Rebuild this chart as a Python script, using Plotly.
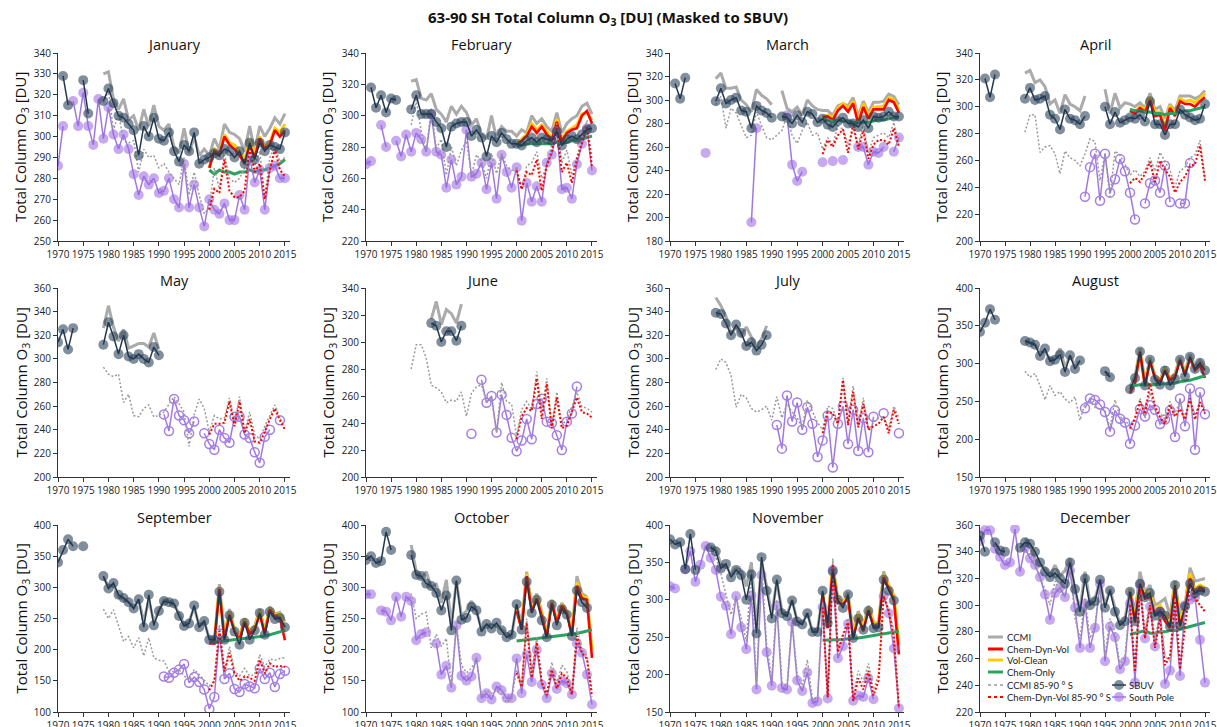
import plotly.graph_objects as go

N = None
W, H = 1217, 727

YEARS = list(range(1970, 2016))
MODEL_YEARS = list(range(2000, 2016))
MONTHS = ["January", "February", "March", "April", "May", "June",
          "July", "August", "September", "October", "November", "December"]
X_TICKS = list(range(1970, 2016, 5))

# ---------------- January ----------------
JAN_SBUV = [N, 329, 315, N, N, 327, 311, N, N, 317,
            323, 316, 310, 309, 306, 303, 291, 305, 300, 309,
            299, 298, 302, 293, 288, 296, 293, 302, 287, 289,
            290, 292, 291, 294, 293, 290, 293, 287, 297, 289,
            297, 293, 296, 295, 294, 302]
JAN_SP = [286, 305, N, 317, 305, 321, 305, 296, 318, 299,
          314, 301, 294, 301, 294, 282, 272, 281, 277, 280,
          273, 274, 280, 270, 266, 287, 266, 277, 266, 257,
          270, 265, 263, 268, 260, 260, 272, 265, 290, 278,
          284, 265, 285, 286, 280, 280]
JAN_CCMI = [N] * 9 + [330,
            331, 318, 313, 318, 308, 310, 303, 313, 305, 315,
            305, 303, 306, 295, 292, 304, 292, 300, 291, 294,
            291, 299, 294, 306, 302, 301, 299, 293, 305, 293,
            305, 300, 304, 309, 306, 311]
JAN_CCMI85 = [N] * 9 + [316,
              322, 303, 311, 298, 297, 298, 283, 294, 290, 291,
              285, 287, 283, 280, 277, 290, 272, 283, 272, 263,
              266, 285, 275, 292, 280, 278, 280, 285, 298, 286,
              293, 271, 290, 295, 288, 290]
JAN_CDV = [285, 293, 291, 300, 296, 294, 291, 287, 296, 290, 299, 294, 296, 303, 300, 303]
JAN_VC = [285, 294, 292, 301, 297, 296, 293, 289, 298, 292, 300, 295, 297, 304, 302, 306]
JAN_CO = [284, 282, 284, 283, 283, 282, 283, 283, 284, 283, 284, 284, 285, 286, 287, 289]
JAN_CDV85 = [265, 275, 273, 289, 274, 271, 271, 274, 295, 283, 287, 270, 284, 294, 284, 281]

# ---------------- February ----------------
FEB_SBUV = [N, 318, 305, 313, 302, 311, 310, N, N, 304,
            313, 301, 301, 301, 296, 292, 280, 293, 295, 296,
            296, 287, 291, 286, 274, 287, 283, 289, 285, 282,
            282, 281, 284, 286, 283, 286, 285, 284, 290, 281,
            285, 287, 285, 288, 291, 292]
FEB_SP = [269, 271, N, 294, 280, N, 284, 274, 288, 277,
          289, 285, 277, 301, 277, 275, 254, 272, 256, 261,
          291, 261, 263, 270, 253, 270, 247, 275, 264, 254,
          267, 233, 257, 245, 255, 245, 270, 275, 290, 253,
          254, 247, 269, 282, 292, 265]
FEB_CCMI = [N] * 9 + [322,
            323, 311, 310, 314, 304, 301, 296, 306, 301, 306,
            302, 294, 298, 288, 285, 300, 285, 293, 290, 290,
            287, 291, 289, 300, 295, 298, 293, 290, 302, 289,
            295, 298, 300, 306, 308, 301]
FEB_CCMI85 = [N] * 9 + [294,
              310, 290, 278, 305, 279, 285, 262, 280, 268, 278,
              284, 262, 275, 271, 260, 276, 263, 276, 268, 265,
              266, 253, 268, 270, 277, 260, 268, 282, 295, 270,
              278, 262, 274, 284, 297, 272]
FEB_CDV = [281, 284, 287, 293, 289, 293, 288, 284, 296, 283, 289, 291, 292, 300, 303, 295]
FEB_VC = [282, 285, 288, 295, 291, 294, 290, 286, 298, 285, 290, 292, 294, 301, 302, 297]
FEB_CO = [281, 281, 282, 282, 282, 282, 282, 282, 283, 282, 283, 284, 284, 285, 286, 287]
FEB_CDV85 = [265, 253, 264, 262, 272, 252, 268, 277, 292, 264, 270, 257, 272, 283, 293, 267]

# ---------------- March ----------------
MAR_SBUV = [N, 314, 301, 319, N, N, N, N, N, 299,
            310, 297, 300, 302, 291, 290, 276, 295, 291, 289,
            285, N, 286, 285, 280, 287, 281, 290, 288, 281,
            284, 279, 277, 282, 285, 280, 280, 277, 283, 276,
            286, 285, 286, 290, 286, 286]
MAR_SP = [N, N, N, N, N, N, N, 255, N, N,
          N, N, N, N, N, N, 196, 276, N, N,
          N, N, N, 287, 245, 231, 239, N, N, N,
          247, N, 248, N, 249, N, N, 260, 260, 245,
          256, 255, 260, N, 256, 268]
MAR_CCMI = [N] * 9 + [318,
            323, 310, 310, 311, 300, 296, 290, 309, 304, 301,
            296, N, 308, 293, 290, 294, 287, 300, 295, 292,
            291, 291, 287, 295, 297, 295, 302, 286, 299, 289,
            298, 298, 299, 305, 303, 296]
MAR_CCMI85 = [N] * 9 + [296,
              303, 276, 293, 289, 278, 268, 270, 290, 278, 268,
              266, 270, 274, 287, 270, 263, 274, 281, 270, 272,
              258, 268, 262, 278, 275, 263, 275, 261, 279, 255,
              268, 270, 272, 268, 281, 262]
MAR_CDV = [285, 286, 283, 291, 295, 290, 297, 280, 294, 284, 292, 292, 292, 300, 298, 289]
MAR_VC = [286, 287, 285, 293, 297, 293, 299, 282, 297, 287, 294, 294, 295, 302, 300, 292]
MAR_CO = [283, 283, 282, 283, 282, 282, 281, 281, 281, 281, 282, 283, 283, 284, 285, 285]
MAR_CDV85 = [254, 266, 260, 270, 275, 255, 280, 258, 274, 250, 262, 266, 266, 262, 276, 260]

# ---------------- April ----------------
APR_SBUV = [N, 321, 307, 324, N, N, N, N, N, 306,
            314, 305, 306, 308, 294, 291, 283, 298, 291, 290,
            287, 293, N, N, N, 300, 287, 296, 288, 290,
            292, 291, 294, 289, 304, 287, 287, 279, 287, 287,
            298, 294, 292, 290, 291, 302]
APR_SP = [N] * 20 + [N, 233, 255, 265, 230, 265, 236, 246, 261, 252,
                     236, 216, N, 228, 243, 245, 236, 256, 229, N,
                     228, 228, 258, N, N, N]
APR_CCMI = [N] * 9 + [325,
            327, 318, 320, 315, 302, 305, 295, 309, 302, 300,
            297, 308, N, N, N, 313, 295, 310, 299, 303,
            302, 300, 303, 299, 310, 298, 300, 291, 302, 297,
            308, 308, 308, 306, 308, 312]
APR_CCMI85 = [N] * 9 + [281,
              294, 294, 266, 270, 271, 265, 250, 267, 262, 260,
              256, 265, 276, 274, 245, 265, 233, 267, 264, 257,
              249, 253, 248, 252, 262, 252, 266, 259, 253, 240,
              252, 255, 262, 264, 275, 247]
APR_CDV = [297, 295, 299, 296, 305, 293, 294, 282, 299, 293, 304, 302, 302, 300, 304, 307]
APR_VC = [298, 296, 300, 298, 307, 296, 296, 285, 301, 295, 306, 304, 305, 303, 306, 310]
APR_CO = [298, 297, 297, 296, 296, 295, 295, 294, 295, 295, 296, 297, 297, 298, 299, 300]
APR_CDV85 = [243, 247, 244, 250, 259, 244, 260, 253, 248, 236, 244, 248, 256, 257, 271, 245]

# ---------------- May ----------------
MAY_SBUV = [314, 325, 308, 326, N, N, N, N, N, 312,
            331, 319, 304, 320, 302, 300, 304, 300, 297, 310,
            303] + [N] * 25
MAY_SP = [N] * 20 + [N, 253, 239, 266, 252, 248, 237, 247, N, 237,
                     228, 223, 240, 233, 229, 251, 251, 236, 233, 221,
                     212, 234, 240, N, 248, N]
MAY_CCMI = [N] * 9 + [326,
            345, 327, 315, 325, 309, 311, 313, 313, 310, 322,
            308] + [N] * 25
MAY_CCMI85 = [N] * 9 + [293,
              287, 285, 287, 263, 270, 252, 251, 258, 261, 251,
              252, 255, 262, 268, 262, 255, 226, 253, 266, 258,
              238, 252, 249, 250, 267, 246, 268, 238, 255, 236,
              232, 243, 252, 261, 250, 243]
MAY_CDV = [N] * 16
MAY_VC = [N] * 16
MAY_CO = [N] * 16
MAY_CDV85 = [236, 245, 245, 246, 264, 243, 264, 237, 249, 230, 229, 238, 249, 258, 248, 240]

# ---------------- June ----------------
JUN_SBUV = [N] * 13 + [314, 312, 300, 308, 308, 301, 312] + [N] * 26
JUN_SP = [N] * 20 + [N, 232, N, 272, 255, 260, 233, 261, 246, 229,
                     219, 227, 243, 228, 254, 258, 241, 240, 231, 220,
                     241, 247, 267, N, N, N]
JUN_CCMI = [N] * 13 + [317, 330, 313, 324, 321, 314, 328] + [N] * 26
JUN_CCMI85 = [N] * 9 + [280,
              298, 298, 288, 268, 266, 263, 255, 257, 256, 263,
              245, 262, 267, 268, 256, 258, 233, 270, 256, 254,
              230, 250, 256, 250, 278, 249, 273, 238, 263, 238,
              243, 252, 263, 252, 251, 248]
JUN_CDV = [N] * 16
JUN_VC = [N] * 16
JUN_CO = [N] * 16
JUN_CDV85 = [228, 245, 251, 249, 273, 243, 269, 236, 259, 236, 238, 248, 259, 248, 247, 244]

# ---------------- July ----------------
JUL_SBUV = [N] * 9 + [339, 338, 330, 320, 329, 322, 311, 314, 307, 312, 320] + [N] * 26
JUL_SP = [N] * 20 + [N, 244, 224, 269, 247, 263, 240, 259, 245, 217,
                     231, 252, 208, 245, 260, 228, 257, 222, 250, 221,
                     251, N, 254, N, N, 237]
JUL_CCMI = [N] * 9 + [352, 345, 336, 322, 326, 320, 327, 318, 310, 317, 328] + [N] * 26
JUL_CCMI85 = [N] * 9 + [291,
              300, 297, 286, 259, 270, 267, 258, 255, 257, 260,
              248, 268, 250, 262, 255, 250, 242, 265, 255, 246,
              240, 260, 258, 246, 284, 245, 277, 242, 267, 240,
              246, 250, 251, 241, 260, 250]
JUL_CDV = [N] * 16
JUL_VC = [N] * 16
JUL_CO = [N] * 16
JUL_CDV85 = [237, 255, 254, 245, 282, 244, 272, 242, 262, 240, 243, 245, 251, 237, 257, 245]

# ---------------- August ----------------
AUG_SBUV = [342, 354, 372, 358, N, N, N, N, N, 330,
            328, 325, 310, 320, 303, 305, 312, 289, 311, 293,
            304, N, N, N, N, 290, 282, N, N, N,
            266, 281, 316, 271, 305, 279, 272, 291, 271, 280,
            305, 283, 309, 293, 301, 291]
AUG_SP = [N] * 20 + [N, 241, 254, 252, 246, 236, 210, 238, 227, 222,
                     194, 218, 240, 230, 245, 239, 220, 226, 238, 203,
                     254, 217, 267, 186, 262, 233]
AUG_CCMI = [N] * 9 + [330,
            327, 325, 316, 315, 306, 307, 320, 295, 310, 299,
            303, N, N, N, N, 290, 283, N, N, N,
            270, 283, 320, 276, 308, 283, 278, 296, 280, 287,
            308, 289, 312, 297, 304, 297]
AUG_CCMI85 = [N] * 9 + [290,
              282, 287, 271, 252, 271, 258, 263, 253, 248, 256,
              225, 248, 250, 242, 240, 238, 215, 252, 230, 225,
              217, 225, 254, 228, 262, 240, 235, 226, 250, 234,
              250, 228, 252, 232, 250, 240]
AUG_CDV = [261, 274, 315, 270, 303, 281, 275, 291, 278, 282, 305, 285, 307, 291, 298, 281]
AUG_VC = [263, 276, 317, 272, 305, 283, 277, 293, 280, 284, 306, 287, 308, 293, 300, 292]
AUG_CO = [270, 271, 272, 272, 272, 272, 273, 273, 274, 274, 276, 277, 278, 280, 282, 284]
AUG_CDV85 = [214, 228, 250, 233, 274, 243, 229, 220, 245, 230, 240, 226, 254, 226, 249, 234]

# ---------------- September ----------------
SEP_SBUV = [340, 360, 377, 366, N, 366, N, N, N, 318,
            298, 307, 288, 283, 276, 266, 281, 236, 288, 239,
            262, 278, 276, 274, 254, 238, 242, 271, 236, 246,
            216, 216, 293, 216, 255, 229, 208, 243, 216, 231,
            259, 224, 261, 249, 251, 236]
SEP_SP = [N] * 20 + [N, 157, 155, 163, 168, 177, 147, 156, 148, 136,
                     105, 124, 226, 153, 162, 137, 132, 145, 141, 138,
                     170, 153, 163, 140, 161, 166]
SEP_CCMI = [N] * 9 + [315,
            303, 302, 285, 280, 276, 268, 280, 245, 280, 245,
            263, 280, 278, 272, 258, 240, 245, 268, 238, 245,
            218, 215, 305, 222, 265, 230, 220, 250, 227, 238,
            265, 230, 269, 257, 260, 245]
SEP_CCMI85 = [N] * 9 + [265,
              250, 264, 240, 213, 221, 203, 219, 190, 219, 187,
              183, 182, 165, 165, 168, 158, 151, 168, 160, 151,
              142, 150, 240, 165, 205, 165, 158, 170, 158, 160,
              192, 172, 185, 183, 186, 187]
SEP_CDV = [210, 210, 297, 215, 256, 229, 216, 245, 225, 232, 257, 225, 264, 252, 251, 215]
SEP_VC = [210, 211, 300, 218, 260, 232, 220, 249, 229, 236, 262, 229, 267, 256, 257, 235]
SEP_CO = [211, 212, 213, 213, 214, 215, 216, 217, 218, 219, 220, 222, 224, 226, 228, 231]
SEP_CDV85 = [135, 150, 230, 165, 195, 162, 150, 157, 155, 150, 184, 162, 178, 172, 174, 172]

# ---------------- October ----------------
OCT_SBUV = [344, 350, 339, 342, 389, 360, N, N, N, 352,
            320, 318, 306, 302, 291, 263, 287, 231, 311, 248,
            251, 269, 263, 229, 241, 234, 243, 231, 220, 224,
            273, 232, 309, 259, 280, 247, 220, 272, 239, 265,
            256, 222, 295, 276, 267, N]
OCT_SP = [289, 289, N, 263, 261, 247, 285, 253, 285, 278,
          215, 225, 228, N, 210, 160, 174, 139, 239, 158,
          150, 157, 187, 122, 130, 120, 141, 135, 122, 122,
          186, 130, 192, 148, 200, 144, 122, 162, 137, 150,
          146, 128, 210, 195, 160, 112]
OCT_CCMI = [N] * 9 + [368,
            325, 315, 325, 300, 305, 275, 312, 240, 310, 255,
            262, 278, 262, 233, 240, 240, 238, 232, 226, 222,
            272, 240, 325, 265, 290, 260, 225, 280, 245, 275,
            262, 225, 318, 290, 285, N]
OCT_CCMI85 = [N] * 9 + [290,
              250, 257, 260, 203, 225, 205, 218, 142, 245, 175,
              163, 170, 185, 125, 135, 130, 135, 128, 115, 122,
              168, 140, 250, 165, 220, 150, 130, 180, 145, 175,
              165, 130, 235, 200, 190, 135]
OCT_CDV = [262, 232, 318, 260, 282, 254, 220, 275, 243, 270, 258, 222, 302, 282, 280, 187]
OCT_VC = [265, 235, 322, 263, 286, 258, 224, 278, 246, 273, 262, 226, 308, 286, 283, 200]
OCT_CO = [214, 215, 216, 217, 218, 219, 219, 220, 221, 222, 223, 224, 226, 228, 230, 232]
OCT_CDV85 = [163, 140, 243, 155, 212, 148, 127, 168, 138, 162, 155, 128, 222, 195, 185, 125]

# ---------------- November ----------------
NOV_SBUV = [381, 374, 377, 341, 388, 340, N, N, 370, 365,
            342, 348, 330, 340, 333, 300, 334, 255, 357, 312,
            275, 327, 282, 278, 299, 271, 267, 282, 257, 257,
            312, 269, 338, 300, 289, 307, 249, 275, 260, 285,
            262, 263, 327, 312, 299, N]
NOV_SP = [318, 315, N, 341, 365, 324, 347, 372, 356, 340,
          304, 292, 254, 305, 263, 234, 306, 180, 333, 230,
          185, 292, 182, 180, 270, 192, 178, 203, 162, 164,
          290, 168, 340, 222, 238, 268, 165, 172, 170, 195,
          167, N, 305, 282, 235, 155]
NOV_CCMI = [N] * 8 + [372, 368,
            348, 345, 335, 342, 340, 318, 350, 262, 350, 318,
            280, 325, 285, 280, 300, 272, 268, 282, 258, 260,
            305, 268, 345, 302, 295, 310, 255, 285, 265, 292,
            270, 268, 338, 318, 305, N]
NOV_CCMI85 = [N] * 8 + [370, 358,
              335, 307, 280, 305, 275, 245, 340, 185, 345, 240,
              195, 300, 190, 185, 275, 200, 185, 220, 167, 170,
              295, 175, 355, 235, 255, 275, 170, 205, 190, 215,
              180, 200, 310, 285, 260, 158]
NOV_CDV = [307, 262, 341, 296, 294, 302, 248, 276, 258, 286, 265, 264, 330, 316, 300, 227]
NOV_VC = [310, 265, 345, 300, 298, 306, 252, 282, 263, 290, 270, 268, 334, 320, 306, 240]
NOV_CO = [246, 246, 246, 247, 247, 248, 248, 249, 250, 251, 252, 253, 254, 256, 257, 258]
NOV_CDV85 = [290, 170, 348, 230, 252, 270, 165, 195, 180, 205, 172, 192, 305, 285, 250, 155]

# ---------------- December ----------------
DEC_SBUV = [352, 340, N, 347, 341, 340, N, N, 343, 347,
            346, 340, 332, 325, 321, 324, 320, 316, 332, 312,
            295, 320, 300, 303, 319, 298, 311, 295, 285, 288,
            310, 288, 316, 306, 309, 292, 295, 292, 284, 315,
            285, 299, 316, 309, 311, 310]
DEC_SP = [348, 356, 356, 342, 336, 330, 332, 357, 325, 343,
          335, 330, 321, 308, 289, 309, 313, 306, 326, 298,
          268, 301, 268, 283, 316, 258, 284, 276, 252, 258,
          301, 242, 315, 275, 299, 269, 295, 241, 251, 296,
          247, 300, 304, 306, 274, 242]
DEC_CCMI = [N] * 9 + [350,
            345, 335, 330, 328, 322, 330, 322, 326, 335, 310,
            297, 325, 302, 305, 318, 300, 312, 298, 286, 290,
            312, 293, 325, 310, 315, 300, 302, 305, 292, 318,
            292, 300, 328, 318, 319, 320]
DEC_CCMI85 = [N] * 9 + [340,
              338, 330, 320, 312, 300, 318, 310, 306, 328, 290,
              275, 305, 275, 285, 315, 262, 290, 280, 255, 262,
              302, 255, 318, 280, 305, 275, 295, 262, 258, 305,
              258, 290, 318, 310, 300, 296]
DEC_CDV = [310, 287, 316, 305, 306, 292, 297, 288, 283, 313, 284, 297, 320, 308, 313, 311]
DEC_VC = [312, 290, 318, 308, 309, 296, 300, 294, 288, 316, 288, 300, 324, 312, 315, 313]
DEC_CO = [278, 279, 280, 281, 279, 279, 280, 280, 281, 281, 282, 283, 284, 285, 286, 287]
DEC_CDV85 = [300, 250, 312, 275, 300, 268, 290, 255, 262, 303, 252, 282, 315, 305, 300, 295]

Y_RANGES = [(250, 340, 10), (220, 340, 20), (180, 340, 20), (200, 340, 20),
            (200, 360, 20), (200, 340, 20), (200, 360, 20), (150, 400, 50),
            (100, 400, 50), (100, 400, 50), (150, 400, 50), (220, 360, 20)]

PANELS = [
    (JAN_SBUV, JAN_SP, JAN_CCMI, JAN_CCMI85, JAN_CDV, JAN_VC, JAN_CO, JAN_CDV85),
    (FEB_SBUV, FEB_SP, FEB_CCMI, FEB_CCMI85, FEB_CDV, FEB_VC, FEB_CO, FEB_CDV85),
    (MAR_SBUV, MAR_SP, MAR_CCMI, MAR_CCMI85, MAR_CDV, MAR_VC, MAR_CO, MAR_CDV85),
    (APR_SBUV, APR_SP, APR_CCMI, APR_CCMI85, APR_CDV, APR_VC, APR_CO, APR_CDV85),
    (MAY_SBUV, MAY_SP, MAY_CCMI, MAY_CCMI85, MAY_CDV, MAY_VC, MAY_CO, MAY_CDV85),
    (JUN_SBUV, JUN_SP, JUN_CCMI, JUN_CCMI85, JUN_CDV, JUN_VC, JUN_CO, JUN_CDV85),
    (JUL_SBUV, JUL_SP, JUL_CCMI, JUL_CCMI85, JUL_CDV, JUL_VC, JUL_CO, JUL_CDV85),
    (AUG_SBUV, AUG_SP, AUG_CCMI, AUG_CCMI85, AUG_CDV, AUG_VC, AUG_CO, AUG_CDV85),
    (SEP_SBUV, SEP_SP, SEP_CCMI, SEP_CCMI85, SEP_CDV, SEP_VC, SEP_CO, SEP_CDV85),
    (OCT_SBUV, OCT_SP, OCT_CCMI, OCT_CCMI85, OCT_CDV, OCT_VC, OCT_CO, OCT_CDV85),
    (NOV_SBUV, NOV_SP, NOV_CCMI, NOV_CCMI85, NOV_CDV, NOV_VC, NOV_CO, NOV_CDV85),
    (DEC_SBUV, DEC_SP, DEC_CCMI, DEC_CCMI85, DEC_CDV, DEC_VC, DEC_CO, DEC_CDV85),
]
OPEN_SP = {3, 4, 5, 6, 7, 8}  # April-September: hollow South Pole markers

for i, p in enumerate(PANELS):
    for j, arr in enumerate(p):
        want = 46 if j < 4 else 16
        assert len(arr) == want, (MONTHS[i], j, len(arr))

# ---------------- styling ----------------
FONT = "Open Sans, Lato, sans-serif"
LEG_FONT = "Lato, Open Sans, sans-serif"
C_CCMI = "#ababab"
C_CDV = "#ff0000"
C_VC = "#ffcc00"
C_CO = "#2ca25f"
C_CCMI85 = "#9a9a9a"
C_SBUV_M = "rgba(45,68,92,0.6)"
C_SBUV_L = "#22384e"
C_SP_M = "rgba(160,112,228,0.6)"
C_SP_L = "rgba(150,105,222,0.9)"
C_SP_OPEN = "#a47ee4"

COL_X = [(58, 290), (366, 597), (670, 904), (980, 1210)]
ROW_Y = [(53, 241), (288, 477), (525, 712)]


def px(x):
    return x / W


def py(y):
    return 1 - y / H


fig = go.Figure()
layout = dict(
    width=W, height=H, autosize=False,
    margin=dict(l=0, r=0, t=0, b=0),
    paper_bgcolor="white", plot_bgcolor="white",
    template="none", showlegend=False,
    font=dict(family=FONT, size=11, color="#222"),
)
annotations = []
shapes = []

for i, month in enumerate(MONTHS):
    r, c = divmod(i, 4)
    n = "" if i == 0 else str(i + 1)
    xa, ya = "x" + n, "y" + n
    sbuv, sp, ccmi, ccmi85, cdv, vc, co, cdv85 = PANELS[i]

    def add(xs, ys, **kw):
        fig.add_trace(go.Scatter(x=xs, y=ys, xaxis=xa, yaxis=ya,
                                 showlegend=False, hoverinfo="skip", **kw))

    add(YEARS, ccmi, mode="lines", line=dict(color=C_CCMI, width=3))
    add(MODEL_YEARS, vc, mode="lines", line=dict(color=C_VC, width=3))
    add(MODEL_YEARS, cdv, mode="lines", line=dict(color=C_CDV, width=2.6))
    add(MODEL_YEARS, co, mode="lines", line=dict(color=C_CO, width=3))
    # South Pole
    if i in OPEN_SP:
        add(YEARS, sp, mode="lines+markers", line=dict(color=C_SP_L, width=1.5),
            marker=dict(symbol="circle-open", size=9, color=C_SP_OPEN,
                        line=dict(width=1.5, color=C_SP_OPEN)))
    else:
        add(YEARS, sp, mode="markers",
            marker=dict(symbol="circle", size=10, color=C_SP_M, line=dict(width=0)))
        add(YEARS, sp, mode="lines", line=dict(color=C_SP_L, width=1.5))
    add(YEARS, ccmi85, mode="lines", line=dict(color=C_CCMI85, width=1.5, dash="2px,2px"))
    add(MODEL_YEARS, cdv85, mode="lines", line=dict(color=C_CDV, width=2, dash="2px,2px"))
    # SBUV
    add(YEARS, sbuv, mode="markers",
        marker=dict(symbol="circle", size=10, color=C_SBUV_M, line=dict(width=0)))
    add(YEARS, sbuv, mode="lines", line=dict(color=C_SBUV_L, width=1.5))

    x0, x1 = COL_X[c]
    y0, y1 = ROW_Y[r]
    lo, hi, dt = Y_RANGES[i]
    axis_common = dict(showline=True, linecolor="#333", linewidth=1,
                       ticks="outside", ticklen=4, tickwidth=1, tickcolor="#333",
                       showgrid=False, zeroline=False, tickangle=0,
                       ticklabeloverflow="allow",
                       tickfont=dict(family=FONT, size=10, color="#222"))
    layout["xaxis" + n] = dict(domain=[px(x0), px(x1)], anchor=ya,
                               range=[1970, 2016], tickmode="array",
                               tickvals=X_TICKS, ticktext=[str(v) for v in X_TICKS],
                               **axis_common)
    layout["yaxis" + n] = dict(domain=[py(y1), py(y0)], anchor=xa,
                               range=[lo, hi], tick0=lo, dtick=dt, **axis_common)
    # subplot title
    annotations.append(dict(text=month, x=px((x0 + x1) / 2), y=py(y0 - 8),
                            xref="paper", yref="paper", showarrow=False,
                            xanchor="center", yanchor="middle",
                            font=dict(family=FONT, size=14.5, color="#111")))

# y-axis titles
for xc in [21, 328, 633, 942]:
    for (y0, y1) in ROW_Y:
        annotations.append(dict(text="Total Column O<sub>3</sub> [DU]",
                                x=px(xc), y=py((y0 + y1) / 2), xref="paper", yref="paper",
                                showarrow=False, textangle=-90,
                                xanchor="center", yanchor="middle",
                                font=dict(family=FONT, size=15, color="#111")))

# main title
annotations.append(dict(text="<b>63-90 SH Total Column O<sub>3</sub> [DU] (Masked to SBUV)</b>",
                        x=px(608), y=py(18), xref="paper", yref="paper",
                        showarrow=False, xanchor="center", yanchor="middle",
                        font=dict(family=FONT, size=15, color="#111")))

# legend (drawn manually in the December panel)
LEG_LEFT = [("CCMI", C_CCMI, 3, "solid", 637),
            ("Chem-Dyn-Vol", C_CDV, 3, "solid", 649),
            ("Vol-Clean", C_VC, 3, "solid", 660),
            ("Chem-Only", C_CO, 3, "solid", 672),
            ("CCMI 85-90 ° S", C_CCMI85, 1.5, "dot", 685),
            ("Chem-Dyn-Vol 85-90 ° S", C_CDV, 2, "dot", 697)]
for label, col, wd, dash, yy in LEG_LEFT:
    shapes.append(dict(type="line", xref="paper", yref="paper",
                       x0=px(988), x1=px(1003), y0=py(yy), y1=py(yy),
                       line=dict(color=col, width=wd, dash=dash)))
    annotations.append(dict(text=label, x=px(1005), y=py(yy), xref="paper", yref="paper",
                            showarrow=False, xanchor="left", yanchor="middle",
                            font=dict(family=LEG_FONT, size=9.5, color="#222")))
for label, mcol, lcol, yy in [("SBUV", C_SBUV_M, C_SBUV_L, 685),
                              ("South Pole", C_SP_M, C_SP_L, 697)]:
    shapes.append(dict(type="line", xref="paper", yref="paper",
                       x0=px(1112), x1=px(1126), y0=py(yy), y1=py(yy),
                       line=dict(color=lcol, width=1.5)))
    shapes.append(dict(type="circle", xref="paper", yref="paper",
                       xsizemode="pixel", ysizemode="pixel",
                       xanchor=px(1119), yanchor=py(yy),
                       x0=-5, x1=5, y0=-5, y1=5,
                       fillcolor=mcol, line=dict(width=0)))
    annotations.append(dict(text=label, x=px(1127), y=py(yy), xref="paper", yref="paper",
                            showarrow=False, xanchor="left", yanchor="middle",
                            font=dict(family=LEG_FONT, size=9.5, color="#222")))

layout["annotations"] = annotations
layout["shapes"] = shapes
fig.update_layout(**layout)

fig.write_html("out.html", config={"displayModeBar": False},
               post_script="document.body.style.margin='0';document.body.style.overflow='hidden';")
